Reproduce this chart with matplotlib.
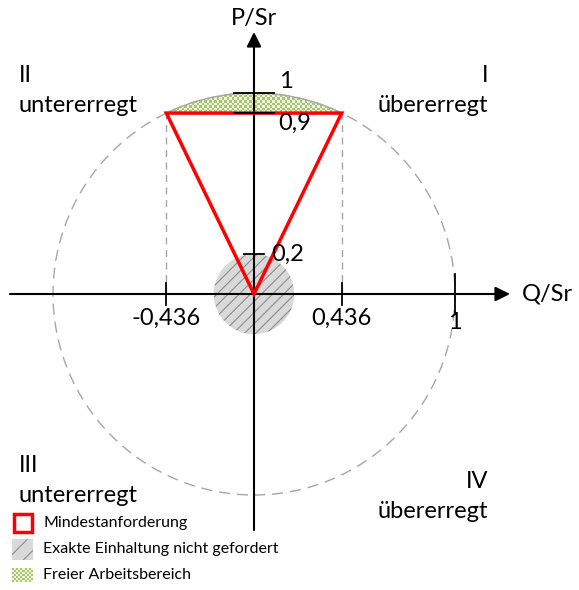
import numpy as np
import matplotlib
matplotlib.use('Agg')
import matplotlib.pyplot as plt
from matplotlib.patches import Circle, Polygon, Rectangle, PathPatch
from matplotlib.path import Path
from matplotlib.colors import ListedColormap

plt.rcParams['font.family'] = ['Lato', 'DejaVu Sans']
plt.rcParams['hatch.color'] = '#8c8c8c'
plt.rcParams['hatch.linewidth'] = 0.8

# chart values
q_min = 0.436          # Q/Sr at the corners of the triangle
p_min = 0.9            # P/Sr of the top edge
p_low = 0.2            # radius of the "not required" disc
y_ticks = [1, 0.9, 0.2]
y_tick_labels = ['1', '0,9', '0,2']
x_ticks = [-0.436, 0.436, 1]
x_tick_labels = ['-0,436', '0,436', '1']
quadrants = [('II', 'untererregt'), ('I', 'übererregt'),
             ('III', 'untererregt'), ('IV', 'übererregt')]
legend_labels = ['Mindestanforderung', 'Exakte Einhaltung nicht gefordert',
                 'Freier Arbeitsbereich']

px = 1 / 201   # one pixel in data units

fig = plt.figure(figsize=(5.79, 5.90), dpi=100)
ax = fig.add_axes([0, 0, 1, 1])
ax.set_xlim(-254 * px, 325 * px)
ax.set_ylim(-296 * px, 294 * px)
ax.set_aspect('equal')
ax.axis('off')

grey = '#a6a6a6'
cmap_chk = ListedColormap(['#a9c46c', '#eef4e2'])


def checker(nx, ny):
    return (np.indices((ny, nx)).sum(axis=0) % 2).astype(float)


# unit circle, dashed
ax.add_patch(Circle((0, 0), 1, fill=False, ec=grey, lw=1, ls=(0, (8, 5))))

# free operating area: circle segment above p_min, checker pattern
th = np.linspace(np.arccos(q_min), np.pi - np.arccos(q_min), 60)
seg = np.column_stack([np.cos(th), np.sin(th)])
seg_patch = PathPatch(Path(np.vstack([seg, seg[:1]]), closed=True),
                      fc='none', ec=grey, lw=1, zorder=2)
ax.add_patch(seg_patch)
im = ax.imshow(checker(80, 8), cmap=cmap_chk, extent=(-0.5, 0.5, 0.9, 1.0),
               interpolation='nearest', zorder=1, origin='lower', aspect='auto')
im.set_clip_path(seg_patch)

# not required disc
ax.add_patch(Circle((0, 0), p_low, fc='#d9d9d9', ec='#8c8c8c', lw=0,
                    hatch='///', zorder=2))

# vertical dashed helper lines
for q in (-q_min, q_min):
    ax.plot([q, q], [0, p_min], color=grey, lw=1, ls=(0, (5, 4)), zorder=2)

# axes with arrows
ax.annotate('', xy=(256 * px, 0), xytext=(-244 * px, 0), zorder=3,
            arrowprops=dict(arrowstyle='-|>', mutation_scale=22, lw=1.5,
                            color='black', shrinkA=0, shrinkB=0))
ax.annotate('', xy=(0, 262 * px), xytext=(0, -236 * px), zorder=3,
            arrowprops=dict(arrowstyle='-|>', mutation_scale=22, lw=1.5,
                            color='black', shrinkA=0, shrinkB=0))

# minimum requirement triangle
ax.add_patch(Polygon([(-q_min, p_min), (q_min, p_min), (0, 0)], closed=True,
                     fill=False, ec='#ff0000', lw=2.5, zorder=4))

# ticks and tick labels
fs = 17
y_lab_pos = [(0.125, 1.055), (0.12, 0.85), (0.085, 0.195)]
for y, lab, (tx, ty) in zip(y_ticks, y_tick_labels, y_lab_pos):
    w = 0.05 if y < 0.5 else 0.1
    ax.plot([-w, w], [y, y], color='black', lw=1.3, zorder=5)
    ax.text(tx, ty, lab, fontsize=fs, ha='left', va='center', zorder=6)
for x, lab in zip(x_ticks, x_tick_labels):
    h = 0.1 if abs(x) == 1 else 0.055
    ax.plot([x, x], [-h, h], color='black', lw=1.3, zorder=5)
    ax.text(x, -0.12 if abs(x) < 1 else -0.14, lab, fontsize=fs,
            ha='center', va='center', zorder=6)

ax.text(0, 1.37, 'P/Sr', fontsize=fs, ha='center', va='center')
ax.text(319 * px, 0, 'Q/Sr', fontsize=fs, ha='right', va='center')

# quadrant labels
qpos = [(-1.17, 1.085, 0.94, 'left'), (1.165, 1.085, 0.94, 'right'),
        (-1.17, -0.855, -1.0, 'left'), (1.165, -0.935, -1.08, 'right')]
for (num, name), (x, y1, y2, ha) in zip(quadrants, qpos):
    ax.text(x, y1, num, fontsize=fs, ha=ha, va='center')
    ax.text(x, y2, name, fontsize=fs, ha=ha, va='center')

# legend, drawn by hand
lx0, lx1 = -242 * px, -221 * px
rows = [(-218 * px, -239 * px), (-245 * px, -266 * px), (-274 * px, -288 * px)]
ax.add_patch(Rectangle((lx0 + 1.5 * px, rows[0][1] + 1.5 * px),
                       lx1 - lx0 - 3 * px, rows[0][0] - rows[0][1] - 3 * px,
                       fc='white', ec='#ff0000', lw=2.5))
ax.add_patch(Rectangle((lx0, rows[1][1]), lx1 - lx0, rows[1][0] - rows[1][1],
                       fc='#d9d9d9', ec='#8c8c8c', lw=0, hatch='//'))
ax.imshow(checker(10, 7), cmap=cmap_chk, interpolation='nearest',
          extent=(lx0, lx1, rows[2][1], rows[2][0]), aspect='auto', zorder=1)
for (top, bot), lab in zip(rows, legend_labels):
    ax.text(-211 * px, (top + bot) / 2, lab, fontsize=11.5, ha='left',
            va='center')

ax.set_xlim(-254 * px, 325 * px)
ax.set_ylim(-296 * px, 294 * px)
fig.savefig('out.png', dpi=100)
